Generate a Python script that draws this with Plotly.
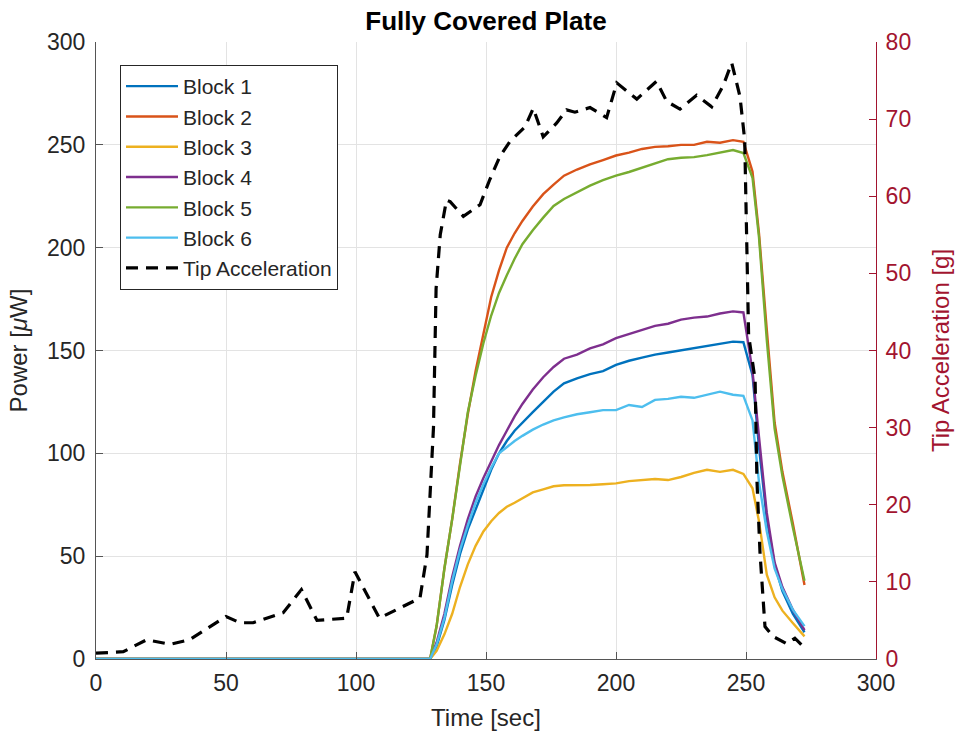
import plotly.graph_objects as go

# ---------------- data ----------------
time_s = [0, 128.5, 131, 134, 137, 140, 143, 146, 149, 152, 155, 158, 161, 164, 168, 172,
          176, 180, 185, 190, 195, 200, 205, 210, 215, 220, 225, 230, 235, 240, 245, 249,
          252.5, 255, 258, 261, 264, 268, 272.5]

block1 = [0, 0, 6, 19, 36, 51, 63, 73, 83, 92, 100, 106, 111, 115, 120, 125,
          130, 134, 136.5, 138.5, 140, 143, 145, 146.5, 148, 149, 150, 151, 152, 153, 154.3, 154,
          138, 103, 68, 46, 33, 22, 13]
block2 = [0, 0, 16, 44, 68, 95, 119, 140, 158, 176, 189, 200, 207, 213, 220, 226,
          230.7, 235, 238, 240.5, 242.6, 244.8, 246.2, 248, 249, 249.3, 250, 250, 251.5, 251, 252.3, 251.5,
          237, 207, 160, 115, 91, 66, 36]
block3 = [0, 0, 4, 12, 22, 35, 46, 55, 62, 67, 71, 74, 76, 78, 81, 82.5,
          84, 84.5, 84.5, 84.6, 85, 85.4, 86.5, 87, 87.5, 87, 88.5, 90.5, 92, 91, 92, 90,
          83, 67, 41, 30, 23.5, 17.5, 11]
block4 = [0, 0, 8, 22, 40, 55, 68, 79, 88, 96, 104, 111, 118, 124, 131, 137,
          142, 146, 148, 151, 153, 156, 158, 160, 162, 163, 165, 166, 166.5, 168, 169, 168.5,
          140, 108, 71, 47, 35, 24, 14]
block5 = [0, 0, 16, 44, 68, 95, 120, 137.7, 153.5, 167, 178, 186.6, 194.6, 201.7, 208.5, 214.6,
          220.3, 223.7, 227, 230.2, 232.8, 235, 236.8, 238.8, 240.9, 243, 243.7, 244, 245, 246.4, 247.5, 246,
          234, 205, 155, 112, 89, 64, 38]
block6 = [0, 0, 7, 20, 38, 53, 65, 76, 85, 93, 100, 103, 106, 108.5, 111.5, 114,
          116, 117.5, 119, 120, 121, 121, 123.5, 122.5, 126, 126.5, 127.5, 127, 128.5, 130, 128.5, 128,
          116, 86, 62, 44, 34, 24, 16]

accel_time = [0, 10.5, 19.5, 28.5, 36, 44, 50, 55.4, 60.4, 72, 79, 85, 96.4, 99.6, 109, 124.6,
              127.3, 129.8, 130.8, 132.4, 134.8, 136.2, 141.3, 147.7, 151.5, 155.4, 159.2, 165,
              168.2, 172, 177.2, 181, 184.2, 190, 196.4, 200.3, 208, 215.6, 219.5, 224.6, 231,
              236.8, 241.3, 244.5, 247.7, 249.5, 251, 253.5, 254.2, 255.4, 257.3, 260.5, 265.6,
              268.8, 272.7]
accel_g = [0.75, 0.95, 2.5, 1.9, 2.5, 4.2, 5.5, 4.7, 4.7, 6.0, 9.0, 5.0, 5.3, 11.3, 5.3, 7.9,
           13.5, 30, 48, 55, 59.5, 59.3, 57.4, 58.9, 62.2, 65.2, 67.1, 69,
           71.4, 67.7, 69.5, 71.2, 70.9, 71.5, 70.2, 74.7, 72.6, 74.9, 72.3, 71.3, 73.1,
           71.6, 74.4, 77.3, 72.9, 67.3, 42, 36.2, 23.2, 13.7, 4.2, 2.9, 2.0,
           2.7, 1.4]

series_names = ["Block 1", "Block 2", "Block 3", "Block 4", "Block 5", "Block 6"]
series_values = [block1, block2, block3, block4, block5, block6]
series_colors = ["#0072BD", "#D95319", "#EDB120", "#7E2F8E", "#77AC30", "#4DBEEE"]

x_ticks = [0, 50, 100, 150, 200, 250, 300]
y_left_ticks = [0, 50, 100, 150, 200, 250, 300]
y_right_ticks = [0, 10, 20, 30, 40, 50, 60, 70, 80]

RIGHT_COLOR = "#A2142F"
TEXT = "#262626"
FONT = "Liberation Sans, Arial, sans-serif"

fig = go.Figure()
for name, vals, col in zip(series_names, series_values, series_colors):
    fig.add_trace(go.Scatter(x=time_s, y=vals, mode="lines", name=name,
                             line=dict(color=col, width=2.4), yaxis="y"))
fig.add_trace(go.Scatter(x=accel_time, y=accel_g, mode="lines", name="Tip Acceleration",
                         line=dict(color="black", width=3.2, dash="12px,8px"), yaxis="y2"))

fig.update_layout(
    width=961, height=740,
    margin=dict(l=96, r=85, t=42, b=81),
    paper_bgcolor="white", plot_bgcolor="white",
    font=dict(family=FONT, color=TEXT, size=22),
    title=dict(text="<b>Fully Covered Plate</b>", x=(96 + 876) / 2 / 961, xanchor="center",
               y=1 - 21 / 740, yanchor="middle", yref="container",
               font=dict(size=26, color="black", family=FONT)),
    xaxis=dict(range=[0, 300], tickvals=x_ticks, ticks="inside", ticklen=7,
               tickcolor="#555", linecolor="#555", linewidth=1, showline=True,
               showgrid=True, gridcolor="#e3e3e3", gridwidth=1, zeroline=False,
               tickfont=dict(size=23, color=TEXT), ticklabelstandoff=3,
               title=dict(text="Time [sec]", font=dict(size=24, color=TEXT), standoff=14)),
    yaxis=dict(range=[0, 300], tickvals=y_left_ticks, ticks="inside", ticklen=7,
               tickcolor="#555", linecolor="#555", linewidth=1, showline=True,
               showgrid=True, gridcolor="#e3e3e3", gridwidth=1, zeroline=False,
               tickfont=dict(size=23, color=TEXT), ticklabelstandoff=5,
               title=dict(text="Power [<i>μ</i>W]", font=dict(size=24, color=TEXT), standoff=12)),
    yaxis2=dict(range=[0, 80], tickvals=y_right_ticks, ticks="inside", ticklen=7,
                overlaying="y", side="right", anchor="x",
                tickcolor=RIGHT_COLOR, linecolor=RIGHT_COLOR, linewidth=1, showline=True,
                showgrid=False, zeroline=False,
                tickfont=dict(size=23, color=RIGHT_COLOR), ticklabelstandoff=4,
                title=dict(text="Tip Acceleration [g]", font=dict(size=24, color=RIGHT_COLOR), standoff=22)),
    legend=dict(x=(120 - 96) / 780, y=(659 - 65) / 617, xanchor="left", yanchor="top",
                bgcolor="white", bordercolor="#262626", borderwidth=1,
                font=dict(size=21, color=TEXT), itemwidth=52),
    showlegend=True,
)

fig.write_html("out.html")
